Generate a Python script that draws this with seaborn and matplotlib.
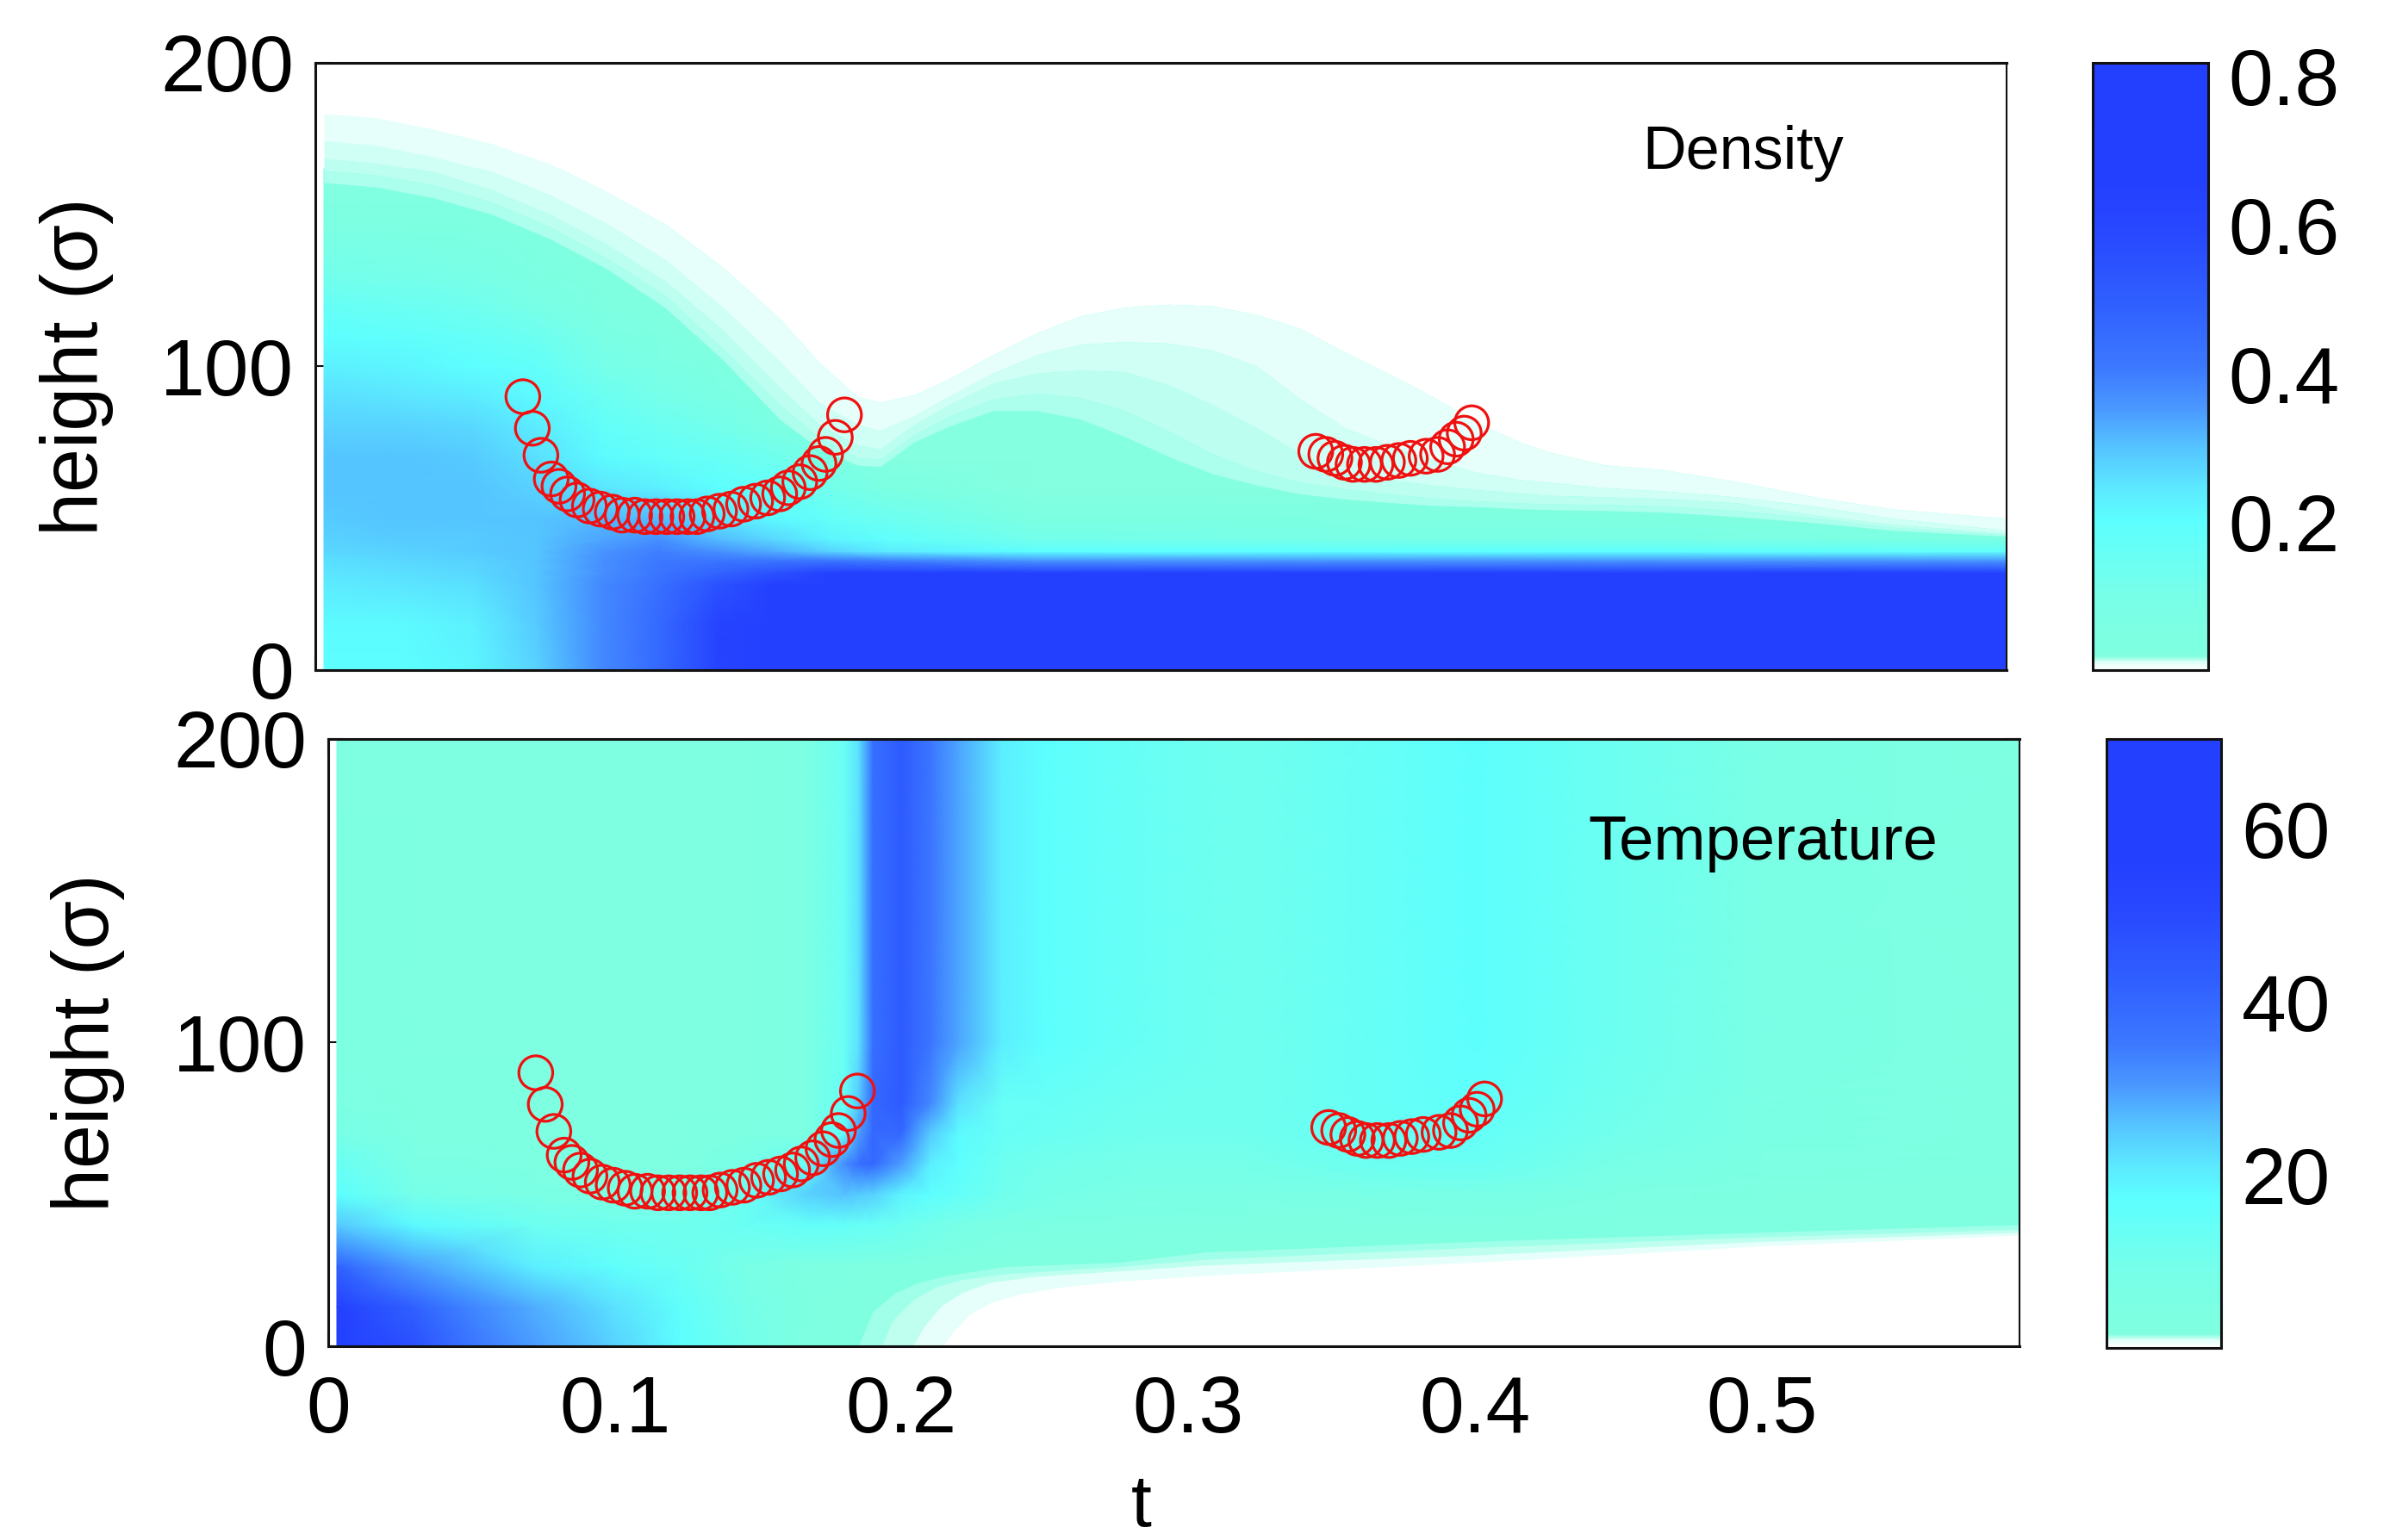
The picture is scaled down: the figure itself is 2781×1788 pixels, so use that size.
import numpy as np
import seaborn as sns
from matplotlib import pyplot as plt
from matplotlib.colors import LinearSegmentedColormap

W, H = 2781, 1788

# red circles (same in both panels)
arc1_t = [.0724, .0757, .0787, .0823, .085, .088, .0913, .0956, .0994, .1036, .107, .1114, .115, .1188, .1226, .1262,
          .13, .1331, .1367, .141, .145, .1494, .1536, .1578, .162, .165, .169, .1726, .1757, .178, .1814, .1846]
arc1_h = [90, 79.6, 70.7, 62.9, 60.5, 58, 56, 54, 53, 52, 51, 51, 50.5, 50.5, 50.5, 50.5,
          50.5, 50.5, 51.4, 52.3, 53, 54.6, 55.6, 56.7, 58, 60, 62, 65, 68, 71, 76.6, 84]
arc2_t = [.349, .3525, .3557, .359, .362, .366, .37, .374, .378, .382, .3875, .3915, .395, .398, .4008, .4034]
arc2_h = [72, 71, 69.7, 68.4, 67.7, 67.7, 67.7, 68.4, 69, 69.7, 70.4, 71, 73.5, 76, 78, 81.4]

# density field
dens_t = [.003, .03, .055, .077, .1, .12, .14, .16, .18, .2, .25, .35, .45, .59]
dens_h = [0, 15, 28, 32, 36, 39, 43, 50, 60, 70, 80, 90, 100, 110, 120, 130, 145, 165]
dens_values = [
    [.20, .20, .22, .28, .38, .46, .62, .80, .80, .80, .80, .80, .80, .80],
    [.21, .21, .23, .29, .38, .46, .62, .78, .80, .80, .80, .80, .80, .80],
    [.24, .25, .26, .30, .38, .44, .55, .68, .78, .80, .80, .80, .80, .80],
    [.25, .26, .27, .30, .37, .42, .48, .55, .65, .72, .75, .75, .75, .75],
    [.26, .27, .28, .30, .37, .41, .42, .42, .42, .40, .36, .36, .36, .36],
    [.27, .28, .29, .30, .36, .40, .37, .33, .28, .24, .20, .20, .20, .18],
    [.28, .29, .29, .30, .34, .37, .31, .27, .22, .19, .12, .10, .09, .05],
    [.29, .30, .30, .30, .31, .31, .25, .21, .17, .14, .05, .04, .03, .02],
    [.30, .30, .30, .28, .25, .23, .20, .18, .12, .05, .02, .02, .02, .02],
    [.30, .30, .29, .26, .21, .18, .16, .13, .05, .02, .02, .02, .02, .02],
    [.28, .28, .27, .24, .18, .15, .12, .06, .03, .02, .02, .02, .02, .02],
    [.26, .25, .24, .21, .15, .11, .07, .03, .02, .02, .02, .02, .02, .02],
    [.23, .22, .20, .18, .11, .07, .04, .02, .02, .02, .02, .02, .02, .02],
    [.20, .19, .17, .14, .07, .04, .02, .02, .02, .02, .02, .02, .02, .02],
    [.16, .15, .13, .09, .04, .03, .02, .02, .02, .02, .02, .02, .02, .02],
    [.12, .11, .09, .05, .03, .02, .02, .02, .02, .02, .02, .02, .02, .02],
    [.05, .05, .04, .03, .02, .02, .02, .02, .02, .02, .02, .02, .02, .02],
    [.02, .02, .02, .02, .02, .02, .02, .02, .02, .02, .02, .02, .02, .02],
]

# pale bands on top of the density field
band_t = [.003, .0213, .0414, .0616, .0817, .1018, .122, .142, .162, .1755, .189, .197,
          .2088, .221, .2364, .2517, .267, .2823, .2976, .313, .3283, .3436, .3589, .3742, .3896, .4049, .4202, .4306,
          .45, .47, .496, .523, .55, .59]
band_1 = [183.2, 181.8, 178, 173.3, 166.7, 157.3, 146.8, 132.7, 115.7, 101.5, 90, 88.2,
          90.6, 95.8, 103.8, 110.9, 116.6, 119.4, 120.4, 119.9, 117, 112.4, 104.8, 97.7, 90.1, 81.6, 75, 71.7,
          67.5, 66, 62, 57, 53, 50]
band_2 = [174.3, 172.8, 169, 164, 156.4, 146.8, 135, 119.4, 101.5, 88.2, 80.8, 78.8,
          83.5, 90.1, 97.7, 103.8, 107.2, 108.1, 107.6, 105.3, 100.1, 89.2, 79.8, 74.1, 69.4, 65.1, 62.7, 61.8,
          60, 59, 57, 54, 50, 46]
band_3 = [168.6, 167, 164, 158, 150, 140, 128, 112, 93, 81, 74, 72.7,
          80.7, 87.3, 94.4, 97.7, 98.7, 98.2, 93.9, 87.3, 79.8, 71.2, 65.1, 62.7, 60.9, 59.4, 58.2, 57.5,
          57, 56.5, 55, 51, 48, 45]
band_4 = [164.4, 163, 159.6, 154, 146, 135.5, 123.3, 106, 87.3, 76.8, 70, 69.4,
          77.4, 83.5, 89.2, 91.1, 89.7, 85.4, 78.8, 71.2, 65.6, 61.8, 59.7, 58, 56.6, 55.7, 55, 54.7,
          54.5, 54, 52.5, 50, 47, 44.5]
band_5 = [160.5, 159, 155.4, 150, 142, 132, 119.3, 102.3, 82.5, 73, 67.5, 67,
          75, 80.2, 85.4, 85.4, 82.6, 76.9, 70.3, 64.6, 60.9, 58, 56.3, 55.2, 54.2, 53.8, 53.1, 52.8,
          52.5, 52, 50.5, 48.5, 46, 44]
band_colors = ['#E6FFFB', '#D0FFF6', '#BCFFF0', '#ABFFEC', '#98FFE8']

# temperature field
temp_t = [.003, .03, .072, .1, .123, .146, .167, .18, .185, .19, .2, .21, .22, .235, .25, .28, .32, .36, .4, .45, .5, .59]
temp_h = [0, 13, 26, 40, 50, 60, 70, 80, 100, 200]
temp_values = [
    [70, 48, 30, 24, 17, 10, 3, 2.5, 2, 2, 2, 2, 2, 2, 2, 2, 2, 2, 2, 2, 2, 2],
    [58, 42, 28, 22, 16, 9, 3.5, 2.5, 2, 2, 2, 2, 2, 2, 2, 2, 2, 2, 2, 2, 2, 2],
    [42, 30, 20, 16, 13, 8, 4, 3, 3, 3, 2.5, 2.5, 2, 2, 2, 2, 2, 2, 2, 2, 2, 2],
    [25, 18, 12, 11, 11, 13, 15, 15, 14, 14, 12, 10, 8, 6, 5, 4, 3.5, 3.5, 3.5, 3, 3, 2],
    [17, 9, 6, 5, 5, 13, 24, 26, 25, 24, 19, 17, 15, 11, 9, 7, 6, 7, 8, 5, 3.5, 2.5],
    [13, 6, 4, 3, 3, 8, 14, 32, 38, 40, 30, 20, 17, 12, 10, 9, 9, 12, 13, 8, 5, 3],
    [8, 4, 3, 3, 3, 4, 5, 16, 30, 40, 40, 25, 18, 14, 13, 11, 11, 14, 15, 10, 6, 3],
    [5, 3.5, 3, 3, 3, 3, 5, 14, 25, 40, 44, 33, 22, 14, 14, 12, 11, 14, 16, 11, 6, 3],
    [4, 3, 3, 3, 3, 3, 5, 13, 22, 38, 44, 36, 29, 20, 17, 14, 11, 14, 17, 12, 7, 3],
    [3, 3, 3, 3, 3, 3, 5, 13, 22, 38, 44, 36, 29, 20, 17, 14, 11, 14, 17, 12, 7, 3],
]

# pale bands at the bottom right of the temperature panel
tband_white_t = [.2144, .2179, .2239, .2309, .2409, .256, .276, .306, .4, .5, .59]
tband_white = [0, 4.7, 10.5, 14.3, 17.1, 19.5, 21.4, 23.3, 27.6, 33, 36.5]
tband_1_t = [.2039, .2079, .2139, .2209, .2309, .2459, .276, .306, .4, .5, .59]
tband_1 = [0, 6.6, 13.3, 17.6, 21, 22.9, 24.8, 26.7, 30, 34.5, 37.5]
tband_2_t = [.1929, .1969, .2039, .2119, .2209, .2359, .276, .306, .4, .5, .59]
tband_2 = [0, 8.5, 15.2, 19.5, 21.9, 23.8, 26.2, 28.6, 32.5, 36, 38.5]
tband_3_t = [.1849, .1899, .1979, .2059, .2159, .2359, .276, .306, .4, .5, .59]
tband_3 = [0, 11.4, 17.6, 21, 23.3, 26.2, 27.6, 31, 34.5, 37.5, 40]

x_ticks = [0, .1, .2, .3, .4, .5]
x_labels = ['0', '0.1', '0.2', '0.3', '0.4', '0.5']
y_ticks = [0, 100, 200]
dens_cticks = [.2, .4, .6, .8]
temp_cticks = [20, 40, 60]

sns.set_theme(style='white')
plt.rcParams['font.family'] = ['Liberation Sans', 'DejaVu Sans']

cmap = LinearSegmentedColormap.from_list('bluecyan', [
    (0, '#FFFFFF'), (.012, '#DFFFF8'), (.022, '#7FFFDF'), (.12, '#78FFE8'), (.245, '#5CFFFF'), (.3, '#5CE8FF'),
    (.365, '#55C4FF'), (.43, '#4A98FF'), (.5, '#3C78FF'), (.6, '#3060FF'), (.72, '#2848FF'), (.8, '#2440FF'),
    (1, '#2340FF')], N=512)


def pixel_axes(fig, left, right, top, bottom):
    return fig.add_axes([left / W, 1 - bottom / H, (right - left) / W, (bottom - top) / H])


def draw_panel(ax, cax, t, h, values, vmin, vmax, cticks, ctick_labels, label_x):
    mesh = ax.pcolormesh(t, h, np.array(values), shading='gouraud', cmap=cmap, vmin=vmin, vmax=vmax, zorder=1)
    for arc_t, arc_h in [(arc1_t, arc1_h), (arc2_t, arc2_h)]:
        sns.scatterplot(x=arc_t, y=arc_h, ax=ax, s=800, marker='o', zorder=5, clip_on=False)
        points = ax.collections[-1]
        points.set_facecolor('none')
        points.set_edgecolor('#F01010')
        points.set_linewidth(2.3)
    ax.set_xlim(0, .59)
    ax.set_ylim(0, 200)
    ax.set_yticks(y_ticks)
    ax.set_yticklabels([str(y) for y in y_ticks], fontsize=67)
    ax.set_xticks(x_ticks)
    ax.tick_params(axis='both', direction='in', length=13, width=1.5, top=True, right=True, bottom=True, left=True,
                   color='#111111', labelcolor='black')
    ax.tick_params(axis='y', pad=18)
    ax.tick_params(axis='x', pad=24)
    for spine in ax.spines.values():
        spine.set_visible(True)
        spine.set_linewidth(2.2)
        spine.set_color('#111111')
    ax.spines['right'].set_linewidth(1.5)
    ax.set_ylabel('height (σ)', fontsize=66, va='center', color='black')
    ax.yaxis.set_label_coords(label_x, .5)

    cbar = ax.figure.colorbar(mesh, cax=cax)
    cbar.set_ticks(cticks)
    cbar.set_ticklabels(ctick_labels)
    cax.tick_params(direction='in', length=7, width=1.5, left=True, right=True, labelsize=67, pad=17,
                    color='#111111', labelcolor='black')
    cbar.outline.set_linewidth(2.2)
    cbar.outline.set_edgecolor('#111111')


fig = plt.figure(figsize=(W / 100, H / 100), dpi=100)

ax_dens = pixel_axes(fig, 366, 2329, 72.5, 778)
cax_dens = pixel_axes(fig, 2429, 2562.5, 72.5, 778)
ax_temp = pixel_axes(fig, 381, 2344, 857.5, 1563)
cax_temp = pixel_axes(fig, 2444.5, 2578, 857.5, 1565)

draw_panel(ax_dens, cax_dens, dens_t, dens_h, dens_values, .002, .8185, dens_cticks,
           ['0.2', '0.4', '0.6', '0.8'], -.141)
draw_panel(ax_temp, cax_temp, temp_t, temp_h, temp_values, 0, 70.5, temp_cticks,
           ['20', '40', '60'], -.142)

# density bands, white sky first then towards the aquamarine (under the spines)
ax_dens.fill_between(band_t, band_1, 201, color='white', lw=0, zorder=1.5)
ax_dens.fill_between(band_t, band_2, band_1, color=band_colors[0], lw=0, zorder=1.5)
ax_dens.fill_between(band_t, band_3, band_2, color=band_colors[1], lw=0, zorder=1.5)
ax_dens.fill_between(band_t, band_4, band_3, color=band_colors[2], lw=0, zorder=1.5)
ax_dens.fill_between(band_t, band_5, band_4, color=band_colors[3], lw=0, zorder=1.5)

# temperature bands, biggest one first
ax_temp.fill_between(tband_3_t, 0, tband_3, color='#A0FFE9', lw=0, zorder=1.5)
ax_temp.fill_between(tband_2_t, 0, tband_2, color='#BFFFF0', lw=0, zorder=1.5)
ax_temp.fill_between(tband_1_t, 0, tband_1, color='#E6FFFB', lw=0, zorder=1.5)
ax_temp.fill_between(tband_white_t, 0, tband_white, color='white', lw=0, zorder=1.5)

ax_dens.set_xticklabels([])
ax_temp.set_xticklabels(x_labels, fontsize=67)

fig.text(1906 / W, 1 - 196 / H, 'Density', fontsize=50.5, va='baseline', ha='left', color='black')
fig.text(1843 / W, 1 - 998 / H, 'Temperature', fontsize=52, va='baseline', ha='left', color='black')
fig.text(1325 / W, 1 - 1772 / H, 't', fontsize=62, va='baseline', ha='center', color='black')

plt.savefig('out.png', dpi=100)
